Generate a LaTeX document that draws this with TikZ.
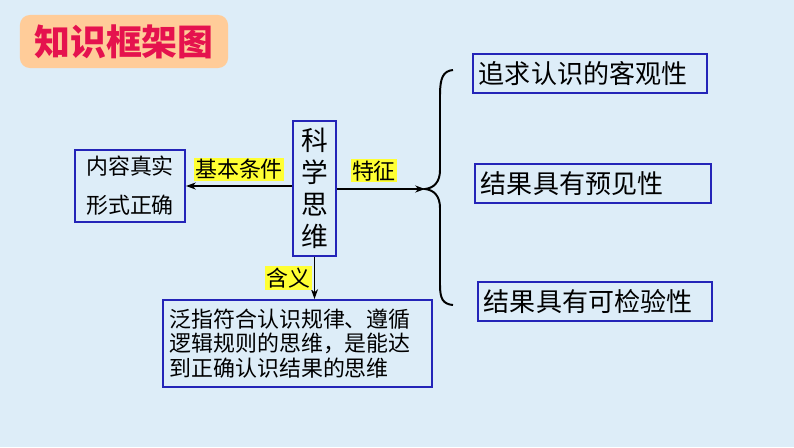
\documentclass[tikz,border=0pt]{standalone}
\usepackage{fontspec}
\setmainfont{Noto Sans CJK SC}
\usepackage{xcolor}
\usepackage{tikz}
\usetikzlibrary{arrows.meta}
\definecolor{bg}{HTML}{DDEDF8}
\definecolor{peach}{HTML}{FFCC99}
\definecolor{rose}{HTML}{E5124E}
\definecolor{edge}{HTML}{2424B8}
\definecolor{mark}{HTML}{FFFF33}
\tikzset{
  box/.style={draw=edge, line width=1.4pt, fill=bg, inner sep=0pt},
  itembox/.style={box, minimum height=0.975cm, text width=5.55cm, align=left, inner xsep=0.15cm, font=\fontsize{18.5}{22}\selectfont},
  tag/.style={fill=mark, inner sep=1pt, font=\fontsize{15.6}{18}\selectfont},
  arrow/.style={line width=1.4pt, -{Stealth[length=7pt,width=5pt]}},
  brace/.style={line width=1.4pt}
}

\begin{document}
\begin{tikzpicture}[x=0.025cm, y=-0.025cm]
  % Background
  \fill[bg] (0,0) rectangle (794,447);
  \useasboundingbox (0,0) rectangle (794,447);

  % Title
  \node[fill=peach, rounded corners=7pt, minimum width=5.2cm, minimum height=1.325cm,
        text=rose, font=\fontsize{25.5}{28}\selectfont\bfseries] (title) at (124,41.5) {知识框架图};

  % Core
  \node[box, minimum width=1.075cm, minimum height=3.375cm, align=center,
        font=\fontsize{19}{22.8}\selectfont] (core) at (314.5,188.5) {科\\学\\思\\维};

  % Condition
  \node[box, minimum width=2.75cm, minimum height=1.8cm, align=center,
        font=\fontsize{15.6}{27.7}\selectfont] (cond) at (130,186) {内容真实\\形式正确};

  % Meaning
  \node[box, minimum width=6.725cm, minimum height=2.175cm, text width=6.4cm, align=left,
        font=\fontsize{15.6}{17.2}\selectfont] (mean) at (297.5,343.5)
        {泛指符合认识规律、遵循\\逻辑规则的思维，是能达\\到正确认识结果的思维};

  % Features
  \node[itembox] (obj) at (590,73.5) {追求认识的客观性};
  \node[itembox, text width=5.6cm] (pred) at (593,183.5) {结果具有预见性};
  \node[itembox] (test) at (595,301.5) {结果具有可检验性};

  % Brace
  \coordinate (tip) at (425,189);
  \draw[brace] (453,70) .. controls (443,71) and (440,78) .. (440,95) -- (440,170)
    .. controls (440,182) and (434,188) .. (tip)
    .. controls (434,190) and (440,196) .. (440,208) -- (440,285)
    .. controls (440,299) and (443,304) .. (453,305);

  % Arrows
  \draw[arrow] (core.west |- cond.east) -- (cond.east)
    node[tag, midway, above=3pt] {基本条件};
  \draw[arrow] (core.east |- tip) -- (tip)
    node[tag, pos=0.42, above=4pt] {特征};
  \draw[arrow] (core.south) -- (core.south |- mean.north)
    node[tag, midway, left=1pt] {含义};
\end{tikzpicture}
\end{document}
